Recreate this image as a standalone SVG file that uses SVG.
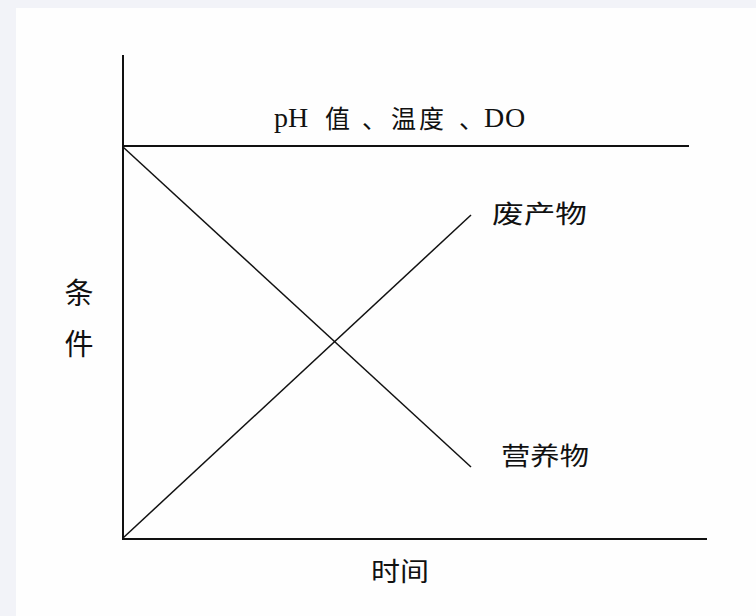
<svg xmlns="http://www.w3.org/2000/svg" width="756" height="616" viewBox="0 0 756 616">
<style>
.axis{stroke:#111;stroke-width:2;fill:none}
.curve{stroke:#111;stroke-width:1.5;fill:none}
.cjk{font-family:"Noto Sans CJK SC","Liberation Sans",sans-serif;fill:#111}
.lat{font-family:"Liberation Serif","Noto Sans CJK SC",serif;fill:#111}
</style>
<rect x="0" y="0" width="756" height="616" fill="#f2f3f8"/>
<rect x="16" y="8" width="740" height="608" fill="#fefefe"/>
<g id="connectors">
<line class="axis" x1="123" y1="55" x2="123" y2="539"/>
<line class="axis" x1="122" y1="539" x2="707" y2="539"/>
<line class="axis" x1="123" y1="146" x2="689" y2="146"/>
<line class="curve" x1="123" y1="147" x2="471" y2="467"/>
<line class="curve" x1="123" y1="538" x2="471" y2="215"/>
</g>
<g id="label-conditions">
<text class="lat" font-size="28" y="127"><tspan x="274">p</tspan><tspan x="288">H</tspan><tspan x="484">D</tspan><tspan x="505">O</tspan></text>
<text class="cjk" font-size="25" y="128"><tspan x="325">值</tspan><tspan x="362">、</tspan><tspan x="391">温</tspan><tspan x="419">度</tspan><tspan x="459">、</tspan></text>
</g>
<g id="label-waste">
<text class="cjk" font-size="25" x="492" y="223" textLength="95" lengthAdjust="spacingAndGlyphs">废产物</text>
</g>
<g id="label-nutrient">
<text class="cjk" font-size="25" x="501" y="465" textLength="88" lengthAdjust="spacingAndGlyphs">营养物</text>
</g>
<g id="label-y">
<text class="cjk" font-size="29" x="79" y="304" text-anchor="middle">条</text>
<text class="cjk" font-size="29" x="79" y="355" text-anchor="middle">件</text>
</g>
<g id="label-x">
<text class="cjk" font-size="26" x="371" y="581" textLength="58" lengthAdjust="spacingAndGlyphs">时间</text>
</g>
</svg>
